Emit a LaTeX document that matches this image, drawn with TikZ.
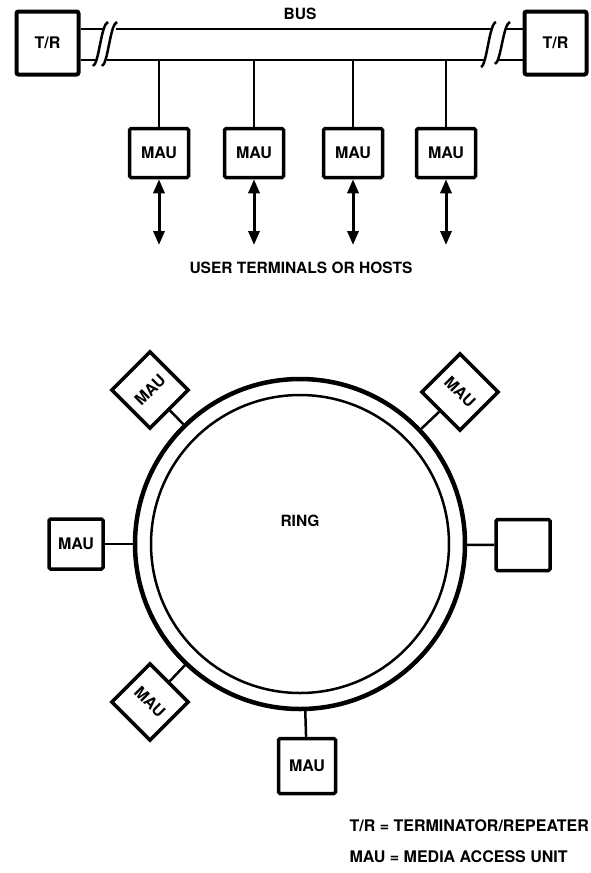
\documentclass[tikz,border=0pt]{standalone}
\usepackage{fontspec}
\setmainfont{TeX Gyre Heros}
\usetikzlibrary{arrows.meta,calc}
\begin{document}
\begin{tikzpicture}[x=1pt,y=-1pt,
  lbl/.style={font=\fontsize{15.5}{17}\selectfont\bfseries},
  boxlbl/.style={font=\fontsize{16}{18}\selectfont\bfseries},
  trbox/.style={draw,line width=4pt,rounded corners=2pt,minimum width=62pt,minimum height=63pt,boxlbl},
  maubox/.style={draw,line width=3.5pt,rounded corners=1.5pt,minimum width=59pt,minimum height=49pt,boxlbl,inner sep=0pt},
  diabox/.style={draw,line width=3.5pt,minimum size=54pt,boxlbl,inner sep=0pt},
  bus/.style={line width=2.5pt},
  brk/.style={line width=2.5pt},
  conn/.style={line width=2.5pt},
  dbl/.style={line width=3pt,{Triangle[length=14pt,width=11pt]}-{Triangle[length=14pt,width=11pt]}}]
\useasboundingbox[fill=white] (0,0) rectangle (590,873);

% ---------- BUS ----------
\node[trbox] (trL) at (47.5,43) {T/R};
\node[trbox] (trR) at (555.5,43) {T/R};
\node[lbl] (buslbl) at (300,14) {BUS};

\coordinate (lsT) at (105,29);
\coordinate (lsB) at (96.5,60);
\coordinate (lmT) at (116,29);
\coordinate (lmB) at (107,60);
\coordinate (rmT) at (493,29);
\coordinate (rmB) at (484,60);
\coordinate (rsT) at (507,29);
\coordinate (rsB) at (497.5,60);
\coordinate (busB) at (300,60);

\draw[bus] (trL.east |- lsT) -- (lsT);
\draw[bus] (trL.east |- lsB) -- (lsB);
\draw[bus] (lmT) -- (rmT);
\draw[bus] (lmB) -- (rmB);
\draw[bus] (rsT) -- (trR.west |- rsT);
\draw[bus] (rsB) -- (trR.west |- rsB);

% break marks
\draw[brk] (93,66) .. controls (99,64) and (101,24) .. (108,22);
\draw[brk] (102,66) .. controls (108,64) and (110,24) .. (117,22);
\draw[brk] (481,67) .. controls (487,65) and (489,24) .. (496,22);
\draw[brk] (495,64) .. controls (501,62) and (503,24) .. (510,22);

% MAUs on bus
\node[maubox] (m1) at (159,153) {MAU};
\node[maubox] (m2) at (254,153) {MAU};
\node[maubox] (m3) at (353,153) {MAU};
\node[maubox] (m4) at (446,153) {MAU};

\foreach \m in {m1,m2,m3,m4}{
  \draw[conn] (\m.north) -- (\m.north |- busB);
}

\coordinate (u1) at (159,245);
\coordinate (u2) at (256,245);
\coordinate (u3) at (353,245);
\coordinate (u4) at (446,245);
\draw[dbl] (m1.south) -- (m1.south |- u1);
\draw[dbl] (m2.south) -- (m2.south |- u2);
\draw[dbl] (m3.south) -- (m3.south |- u3);
\draw[dbl] (m4.south) -- (m4.south |- u4);

\node[lbl] (users) at (301,268) {USER TERMINALS OR HOSTS};

% ---------- RING ----------
\node[draw,circle,line width=4.5pt,minimum size=330pt,inner sep=0pt] (ringO) at (300,544) {};
\node[draw,circle,line width=2.5pt,minimum size=298pt,inner sep=0pt] (ringI) at (300,544) {};
\node[lbl] (ringlbl) at (300,521) {RING};

\node[diabox,rotate=45] (dUL) at (150,390) {MAU};
\node[diabox,rotate=-45] (dUR) at (460,392) {MAU};
\node[diabox,rotate=-45] (dLL) at (150,702) {MAU};
\node[maubox,minimum width=54pt,minimum height=50pt] (mL) at (76,544) {MAU};
\node[maubox,minimum width=54pt,minimum height=51pt] (mR) at (523,545) {};
\node[maubox,minimum width=57pt,minimum height=55pt] (mB) at (307,766) {MAU};

\foreach \m in {dUL,dUR,dLL,mL,mR,mB}{
  \draw[conn] (\m) -- (ringO);
}

% ---------- LEGEND ----------
\node[anchor=west,font=\fontsize{16}{18}\selectfont\bfseries] (leg1) at (346,826) {T/R = TERMINATOR/REPEATER};
\node[anchor=west,font=\fontsize{16}{18}\selectfont\bfseries] (leg2) at (346,857) {MAU = MEDIA ACCESS UNIT};
\end{tikzpicture}
\end{document}
